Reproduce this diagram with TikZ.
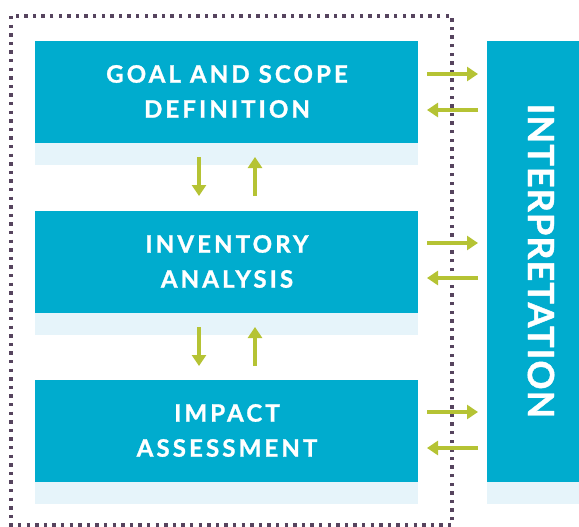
\documentclass[tikz,border=0pt]{standalone}
\usepackage{fontspec}
\newfontfamily\boxfont{Lato Bold}[LetterSpace=13,FakeBold=1.2]
\newfontfamily\interpfont{Lato Bold}[LetterSpace=3,FakeBold=1.2]
\usetikzlibrary{arrows.meta}
\definecolor{boxblue}{HTML}{00ACCE}
\definecolor{boxlight}{HTML}{E6F4FA}
\definecolor{arrowgreen}{HTML}{B5C334}
\definecolor{dotpurple}{HTML}{56445E}
\tikzset{
  bluebox/.style={fill=boxblue, draw=none, minimum width=383pt, minimum height=102pt, inner sep=0pt, anchor=north west},
  lightstrip/.style={fill=boxlight, draw=none, minimum width=383pt, minimum height=22pt, inner sep=0pt, anchor=north west},
  boxtext/.style={text=white, font=\boxfont\fontsize{24}{35}\selectfont, align=center},
  flowarrow/.style={draw=arrowgreen, line width=3.6pt, -{Triangle[width=14pt,length=11pt]}},
}
\begin{document}
\begin{tikzpicture}[x=1pt,y=-1pt]
\useasboundingbox (0,0) rectangle (579,527);
% dotted frame
\draw[dotpurple, line width=3.6pt, dash pattern=on 3.4pt off 5.2pt] (11,16) rectangle (452,525);
% boxes
\foreach \n/\y in {a/41,b/211,c/380}{
  \node[lightstrip] (\n s) at (35,\y+102) {};
}
\node[bluebox] (a) at (35,41) {};
\node[bluebox] (b) at (35,211) {};
\node[bluebox] (c) at (35,380) {};
\node[boxtext] (at) at (227,91.5) {GOAL AND SCOPE\\DEFINITION};
\node[boxtext] (bt) at (227,261.5) {INVENTORY\\ANALYSIS};
\node[boxtext] (ct) at (227,430.5) {IMPACT\\ASSESSMENT};
% interpretation
\node[fill=boxlight, minimum width=120pt, minimum height=22pt, inner sep=0pt, anchor=north west] (is) at (487,482) {};
\node[fill=boxblue, minimum width=120pt, minimum height=441pt, inner sep=0pt, anchor=north west] (i) at (487,41) {};
\node[text=white, rotate=-90, font=\interpfont\fontsize{36}{36}\selectfont] (it) at (541,261) {INTERPRETATION};
% coordinates for arrows
\foreach \n/\ya/\yb in {a/74/110, b/243/278, c/412/448}{
  \coordinate (\n R1) at (427,\ya);
  \coordinate (\n R2) at (478,\ya);
  \coordinate (\n L1) at (478,\yb);
  \coordinate (\n L2) at (427,\yb);
}
\foreach \n in {a,b,c}{
  \draw[flowarrow] (\n R1) -- (\n R2);
  \draw[flowarrow] (\n L1) -- (\n L2);
}
\coordinate (d1) at (199,157); \coordinate (d2) at (199,196);
\coordinate (u1) at (255,196); \coordinate (u2) at (255,157);
\coordinate (d3) at (199,327); \coordinate (d4) at (199,366);
\coordinate (u3) at (255,366); \coordinate (u4) at (255,327);
\draw[flowarrow] (d1) -- (d2);
\draw[flowarrow] (u1) -- (u2);
\draw[flowarrow] (d3) -- (d4);
\draw[flowarrow] (u3) -- (u4);
\end{tikzpicture}
\end{document}
